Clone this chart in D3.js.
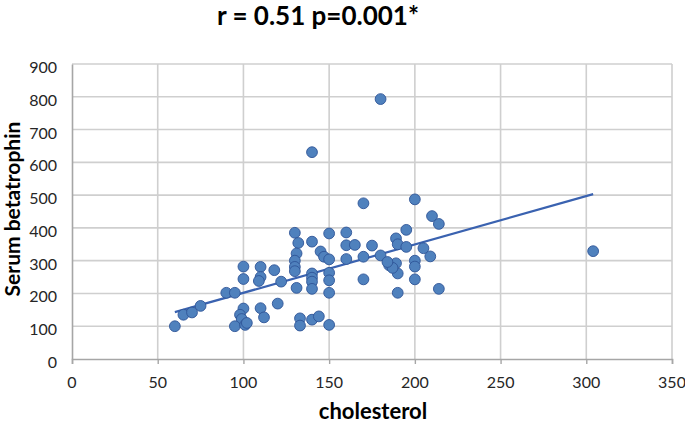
<!DOCTYPE html>
<html>
<head>
<meta charset="utf-8">
<script src="https://cdn.jsdelivr.net/npm/d3@7"></script>
<style>
html,body{margin:0;padding:0;background:#fff;}
svg{display:block;}
</style>
</head>
<body>
<svg id="chart" width="685" height="425"></svg>
<script>
// ---- data ----
const cholesterol = [60,65,70,75,90,95,100,100,100,98,99,95,101,102,110,110,109,110,112,118,122,120,
  130,132,131,130,130,130,131,133,133,140,140,140,140,140,140,140,144,145,147,150,150,150,150,150,150,
  160,160,160,165,170,170,170,175,180,180,185,189,189,190,190,187,190,195,195,200,200,200,200,205,209,210,214,214,304,184];
const betatrophin = [100,135,142,162,202,202,282,244,154,135,122,100,104,110,281,250,238,155,127,271,236,169,
  385,354,322,300,281,268,217,124,102,358,261,248,236,214,120,631,130,328,312,383,304,263,240,202,104,
  386,347,305,348,475,312,243,346,793,316,286,292,368,350,261,278,202,394,342,487,300,282,243,338,313,436,412,214,329,296];
const xTicks = [0,50,100,150,200,250,300,350];
const yTicks = [0,100,200,300,400,500,600,700,800,900];
const trend = {intercept: 54.5, slope: 1.475, xFrom: 60, xTo: 304};
const titleText = "r = 0.51 p=0.001*";
const xTitle = "cholesterol";
const yTitle = "Serum betatrophin";

// ---- layout ----
const svg = d3.select("#chart");
const pL = 72, pR = 672, pT = 64, pB = 359;
const x = d3.scaleLinear().domain([0,350]).range([pL,pR]);
const y = d3.scaleLinear().domain([0,900]).range([pB,pT]);
const font = "Lato, 'Open Sans', sans-serif";

// gridlines
svg.append("g").selectAll("line").data(yTicks.filter(d=>d>0)).join("line")
  .attr("x1",pL).attr("x2",pR).attr("y1",d=>y(d)).attr("y2",d=>y(d))
  .attr("stroke","#cfcfcf").attr("stroke-width",1.6);
svg.append("g").selectAll("line").data(xTicks.filter(d=>d>0)).join("line")
  .attr("y1",pT).attr("y2",pB).attr("x1",d=>x(d)).attr("x2",d=>x(d))
  .attr("stroke","#cfcfcf").attr("stroke-width",1.6);

// axes
const xAxis = d3.axisBottom(x).tickValues(xTicks).tickSize(5).tickFormat("");
const gx = svg.append("g").attr("transform",`translate(0,${pB})`).call(xAxis);
gx.select(".domain").attr("stroke","#a6a6a6").attr("stroke-width",1.6);
gx.selectAll(".tick line").attr("stroke","#a6a6a6").attr("stroke-width",1.4);
const yAxis = d3.axisLeft(y).tickValues(yTicks).tickSize(0).tickFormat("");
const gy = svg.append("g").attr("transform",`translate(${pL},0)`).call(yAxis);
gy.select(".domain").attr("stroke","#a6a6a6").attr("stroke-width",1.6);

// tick labels
svg.append("g").selectAll("text").data(xTicks).join("text")
  .attr("x",d=>x(d)).attr("y",pB+29).attr("text-anchor","middle")
  .attr("font-family",font).attr("font-size",16).attr("fill","#262626").text(d=>d);
svg.append("g").selectAll("text").data(yTicks).join("text")
  .attr("x",pL-15).attr("y",d=>y(d)+9).attr("text-anchor","end")
  .attr("font-family",font).attr("font-size",16).attr("fill","#262626").text(d=>d);

// trend line
svg.append("line")
  .attr("x1",x(trend.xFrom)).attr("y1",y(trend.intercept+trend.slope*trend.xFrom))
  .attr("x2",x(trend.xTo)).attr("y2",y(trend.intercept+trend.slope*trend.xTo))
  .attr("stroke","#3a62b0").attr("stroke-width",2.2);

// points
const pts = cholesterol.map((c,i)=>({c, b: betatrophin[i]}));
svg.append("g").selectAll("circle").data(pts).join("circle")
  .attr("cx",d=>x(d.c)).attr("cy",d=>y(d.b)).attr("r",5.4)
  .attr("fill","#4f81bd").attr("stroke","#2f5597").attr("stroke-width",0.9);

// titles
svg.append("text").attr("x",318).attr("y",25).attr("text-anchor","middle")
  .attr("font-family",font).attr("font-weight","bold").attr("font-size",26).attr("fill","#000")
  .text(titleText);
svg.append("text").attr("x",373).attr("y",419).attr("text-anchor","middle")
  .attr("font-family",font).attr("font-weight","bold").attr("font-size",22).attr("fill","#000")
  .text(xTitle);
svg.append("text").attr("transform","translate(20,209) rotate(-90)").attr("text-anchor","middle")
  .attr("font-family",font).attr("font-weight","bold").attr("font-size",21).attr("fill","#000")
  .text(yTitle);
</script>
</body>
</html>
